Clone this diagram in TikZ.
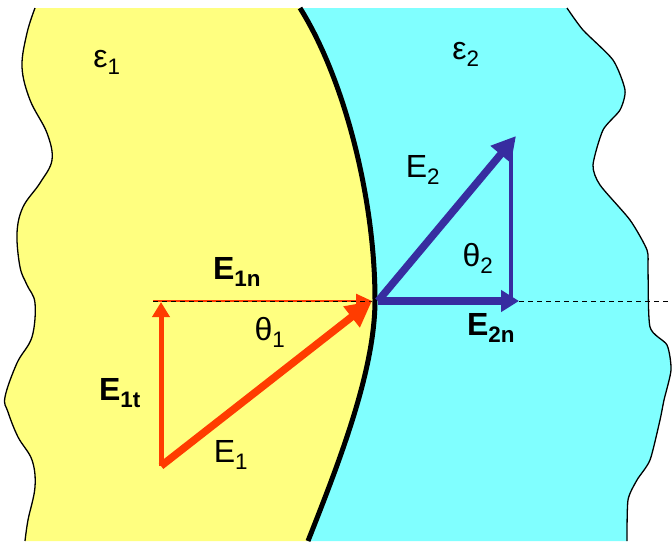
\documentclass[tikz,border=0pt]{standalone}
\usepackage{fontspec}
\setmainfont{Liberation Sans}
\usetikzlibrary{arrows.meta}
\definecolor{yel}{RGB}{255,255,128}
\definecolor{cya}{RGB}{128,255,255}
\definecolor{redE}{RGB}{255,60,0}
\definecolor{bluE}{RGB}{55,45,160}
\begin{document}
\begin{tikzpicture}[x=1pt,y=-1pt,
  lbl/.style={inner sep=0pt,font=\fontsize{32}{36}\selectfont},
  blbl/.style={lbl,font=\fontsize{32}{36}\selectfont\bfseries},
  bigred/.style={draw=redE,line width=7.5pt,-{Triangle[length=26pt,width=25pt]}},
  midred/.style={draw=redE,line width=5pt,-{Triangle[length=15pt,width=17pt]}},
  thinred/.style={draw=redE,line width=2.5pt,-{Triangle[length=16pt,width=14pt]}},
  bigblue/.style={draw=bluE,line width=7.5pt,-{Triangle[length=24pt,width=25pt]}},
  midblue/.style={draw=bluE,line width=7.5pt,-{Triangle[length=18pt,width=21pt]}},
  edge/.style={draw=black,line width=1.3pt},
  dashln/.style={draw=black,line width=1pt,dash pattern=on 5pt off 4pt}]
\useasboundingbox (0,0) rectangle (672,541);
\fill[white] (0,0) rectangle (672,541);
% yellow region
\fill[yel] plot[smooth,tension=0.6] coordinates {(35,8) (27,33) (22,67) (30,100) (47,133) (52,160) (40,183) (23,207) (17,233) (20,267) (27,285) (35,303) (32,337) (17,363) (5,397) (8,412) (18,437) (32,460) (35,487) (28,520) (25,541)}
  -- (308,541) .. controls (340,460) and (375,370) .. (375,300) .. controls (375,200) and (345,80) .. (300,8) -- cycle;
% cyan region
\fill[cya] (300,8) .. controls (345,80) and (375,200) .. (375,300) .. controls (375,370) and (340,460) .. (308,541)
  -- plot[smooth,tension=0.4] coordinates {(627,541) (628,500) (637,480) (650,460) (660,420) (664,400) (671,370) (667,345) (650,327) (648,270) (647,250) (630,220) (600,185) (593,165) (603,130) (620,110) (625,90) (613,60) (583,30) (567,8)} -- cycle;
% boundaries
\draw[edge] plot[smooth,tension=0.6] coordinates {(35,8) (27,33) (22,67) (30,100) (47,133) (52,160) (40,183) (23,207) (17,233) (20,267) (27,285) (35,303) (32,337) (17,363) (5,397) (8,412) (18,437) (32,460) (35,487) (28,520) (25,541)};
\draw[edge] plot[smooth,tension=0.4] coordinates {(627,541) (628,500) (637,480) (650,460) (660,420) (664,400) (671,370) (667,345) (650,327) (648,270) (647,250) (630,220) (600,185) (593,165) (603,130) (620,110) (625,90) (613,60) (583,30) (567,8)};
\draw[black,line width=5pt] (300,8) .. controls (345,80) and (375,200) .. (375,300) .. controls (375,370) and (340,460) .. (308,541);
% key points
\coordinate (A) at (161,466);
\coordinate (B) at (161,302);
\coordinate (Bl) at (153,301);
\coordinate (O1) at (372,301);
\coordinate (O2) at (378,301);
\coordinate (C) at (519,301);
\coordinate (D) at (511,304);
\coordinate (Dt) at (511,146);
\coordinate (T) at (516,136);
\coordinate (R) at (672,301);
% red vectors
\draw[thinred] (Bl) -- (O1);
\draw[dashln] (Bl) -- (O1);
\draw[midred] (A) -- (B);
\draw[bigred] (A) -- (O1);
% blue vectors
\draw[draw=bluE,line width=4.5pt] (D) -- (Dt);
\draw[midblue] (O2) -- (C);
\draw[bigblue] (O2) -- (T);
\draw[dashln] (C) -- (R);
% labels
\node[lbl] (eps1) at (107,62) {ε\textsubscript{1}};
\node[lbl] (eps2) at (466,54) {ε\textsubscript{2}};
\node[lbl] (lE2) at (423,170) {E\textsubscript{2}};
\node[lbl] (th2) at (478,258) {θ\textsubscript{2}};
\node[blbl] (lE2n) at (491,328) {E\textsubscript{2n}};
\node[blbl] (lE1n) at (237,272) {E\textsubscript{1n}};
\node[lbl] (th1) at (270,332) {θ\textsubscript{1}};
\node[blbl] (lE1t) at (120,393) {E\textsubscript{1t}};
\node[lbl] (lE1) at (231,455) {E\textsubscript{1}};
\end{tikzpicture}
\end{document}
